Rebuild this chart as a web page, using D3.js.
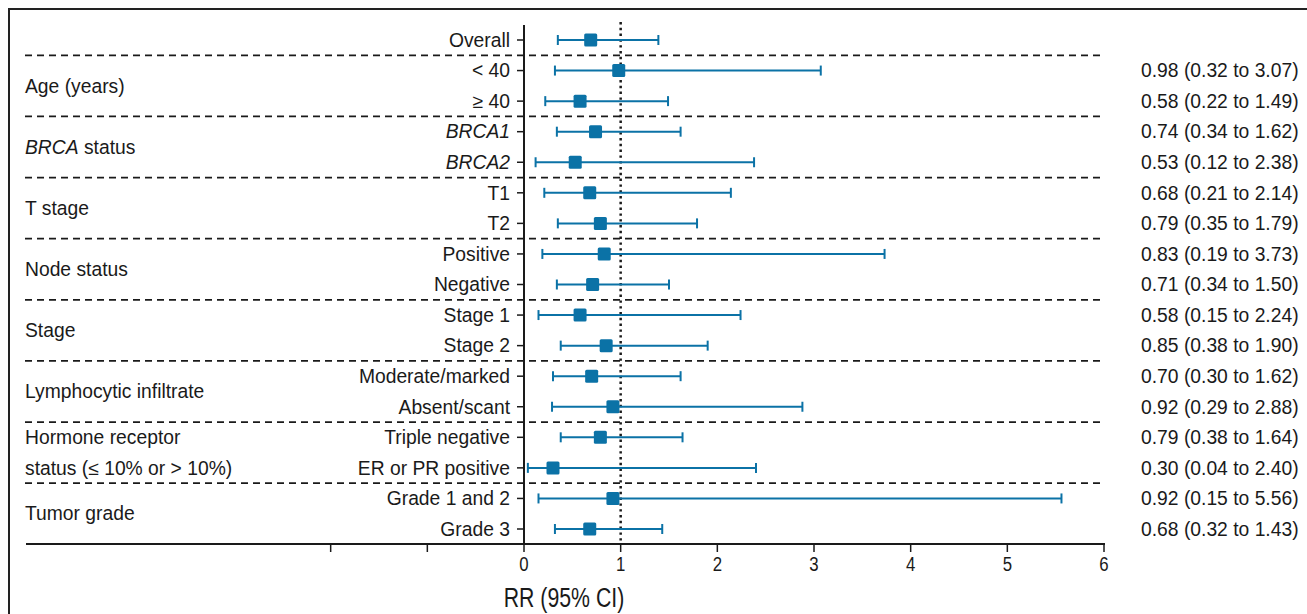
<!DOCTYPE html>
<html><head><meta charset="utf-8">
<script src="https://cdn.jsdelivr.net/npm/d3@7"></script>
<style>
body{margin:0;background:#fff;}
text{fill:#1a1a1a;}
</style></head>
<body><svg id="c" width="1307" height="614"></svg>
<script>
// ---- data ----
const rowLabels = ["Overall","< 40","\u2265 40","BRCA1","BRCA2","T1","T2","Positive","Negative","Stage 1","Stage 2","Moderate/marked","Absent/scant","Triple negative","ER or PR positive","Grade 1 and 2","Grade 3"];
const italicRows = ["BRCA1","BRCA2"];
const rr    = [0.69,0.98,0.58,0.74,0.53,0.68,0.79,0.83,0.71,0.58,0.85,0.70,0.92,0.79,0.30,0.92,0.68];
const lower = [0.35,0.32,0.22,0.34,0.12,0.21,0.35,0.19,0.34,0.15,0.38,0.30,0.29,0.38,0.04,0.15,0.32];
const upper = [1.39,3.07,1.49,1.62,2.38,2.14,1.79,3.73,1.50,2.24,1.90,1.62,2.88,1.64,2.40,5.56,1.43];
const showText = [false,true,true,true,true,true,true,true,true,true,true,true,true,true,true,true,true];
// group labels: [text lines, first row index, last row index]
const groupNames = ["Age (years)","BRCA status","T stage","Node status","Stage","Lymphocytic infiltrate","Hormone receptor|status (\u2264 10% or > 10%)","Tumor grade"];
const groupStart = [1,3,5,7,9,11,13,15];
const groupEnd   = [2,4,6,8,10,12,14,16];
const xTicksLabeled = [0,1,2,3,4,5,6];
const xTicksUnlabeled = [-2,-1];
const xTitle = "RR (95% CI)";

const svg = d3.select("#c");
const blue = "#0b72a6";
const ink = "#1a1a1a";
const FONT = "'Liberation Sans',Arial,sans-serif";
const FS = "19.3px";
const x = d3.scaleLinear().domain([0,6]).range([524,1104]);
const y = d3.scalePoint().domain(d3.range(rowLabels.length)).range([40,529]);
const step = y.step();

// frame
svg.append("path").attr("d","M9,614V9H1307").attr("fill","none").attr("stroke","#222").attr("stroke-width",2);

// dashed separators
const seps = [0].concat(groupEnd.slice(0,-1));
svg.selectAll("line.sep").data(seps).join("line").attr("class","sep")
  .attr("x1",25).attr("x2",1104)
  .attr("y1",d=>y(d)+step/2).attr("y2",d=>y(d)+step/2)
  .attr("stroke",ink).attr("stroke-width",1.8).attr("stroke-dasharray","7,5");

// x axis
const axisY = 544;
const gx = svg.append("g").attr("transform",`translate(0,${axisY})`);
gx.append("line").attr("x1",26).attr("x2",x(6)+1).attr("stroke",ink).attr("stroke-width",2);
gx.selectAll("line.tk").data(xTicksUnlabeled.concat(xTicksLabeled)).join("line").attr("class","tk")
  .attr("x1",d=>x(d)).attr("x2",d=>x(d)).attr("y1",0).attr("y2",8).attr("stroke",ink).attr("stroke-width",1.5);
gx.selectAll("text").data(xTicksLabeled).join("text")
  .attr("transform",d=>`translate(${x(d)},27) scale(0.8,1)`).attr("text-anchor","middle")
  .style("font-family",FONT).style("font-size","21px")
  .text(d=>d);
svg.append("text").attr("transform","translate(564,607) scale(0.76,1)").attr("text-anchor","middle")
  .style("font-family",FONT).style("font-size","28px")
  .text(xTitle);

// y axis
svg.append("line").attr("x1",524).attr("x2",524).attr("y1",25).attr("y2",axisY).attr("stroke",ink).attr("stroke-width",2);
svg.selectAll("line.yt").data(d3.range(rowLabels.length)).join("line").attr("class","yt")
  .attr("x1",517).attr("x2",524).attr("y1",d=>y(d)).attr("y2",d=>y(d)).attr("stroke",ink).attr("stroke-width",1.5);

// row labels
svg.selectAll("text.rl").data(rowLabels).join("text").attr("class","rl")
  .attr("x",510).attr("y",(d,i)=>y(i)).attr("dy","0.35em").attr("text-anchor","end")
  .style("font-family",FONT).style("font-size",FS)
  .style("font-style",d=>italicRows.includes(d)?"italic":"normal")
  .text(d=>d);

// group labels
groupNames.forEach((g,i)=>{
  const lines = g.split("|");
  const sty = t=>t.style("font-family",FONT).style("font-size",FS);
  if(lines.length===2){
    [groupStart[i],groupEnd[i]].forEach((r,k)=>{
      sty(svg.append("text").attr("x",25).attr("y",y(r)).attr("dy","0.35em")).text(lines[k]);
    });
  } else {
    const t = sty(svg.append("text").attr("x",25).attr("y",(y(groupStart[i])+y(groupEnd[i]))/2).attr("dy","0.35em"));
    if(g.startsWith("BRCA ")){
      t.append("tspan").style("font-style","italic").text("BRCA");
      t.append("tspan").text(g.slice(4));
    } else t.text(g);
  }
});

// reference line at 1
svg.append("line").attr("x1",x(1)).attr("x2",x(1)).attr("y1",22).attr("y2",axisY)
  .attr("stroke",ink).attr("stroke-width",2.5).attr("stroke-dasharray","2.4,3.4");

// error bars
const idx = d3.range(rowLabels.length);
svg.selectAll("line.ci").data(idx).join("line").attr("class","ci")
  .attr("x1",i=>x(lower[i])).attr("x2",i=>x(upper[i])).attr("y1",i=>y(i)).attr("y2",i=>y(i))
  .attr("stroke",blue).attr("stroke-width",2);
[lower,upper].forEach(arr=>{
  svg.selectAll(null).data(idx).join("line")
    .attr("x1",i=>x(arr[i])).attr("x2",i=>x(arr[i])).attr("y1",i=>y(i)-5).attr("y2",i=>y(i)+5)
    .attr("stroke",blue).attr("stroke-width",2);
});
const s = 13;
svg.selectAll("rect.pt").data(idx).join("rect").attr("class","pt")
  .attr("x",i=>x(rr[i])-s/2).attr("y",i=>y(i)-s/2).attr("width",s).attr("height",s).attr("rx",1.5)
  .attr("fill",blue);

// right text
const fmt = d3.format(".2f");
svg.selectAll("text.rt").data(idx.filter(i=>showText[i])).join("text").attr("class","rt")
  .attr("x",1141).attr("y",i=>y(i)).attr("dy","0.35em")
  .style("font-family",FONT).style("font-size",FS)
  .text(i=>`${fmt(rr[i])} (${fmt(lower[i])} to ${fmt(upper[i])})`);
</script></body></html>
